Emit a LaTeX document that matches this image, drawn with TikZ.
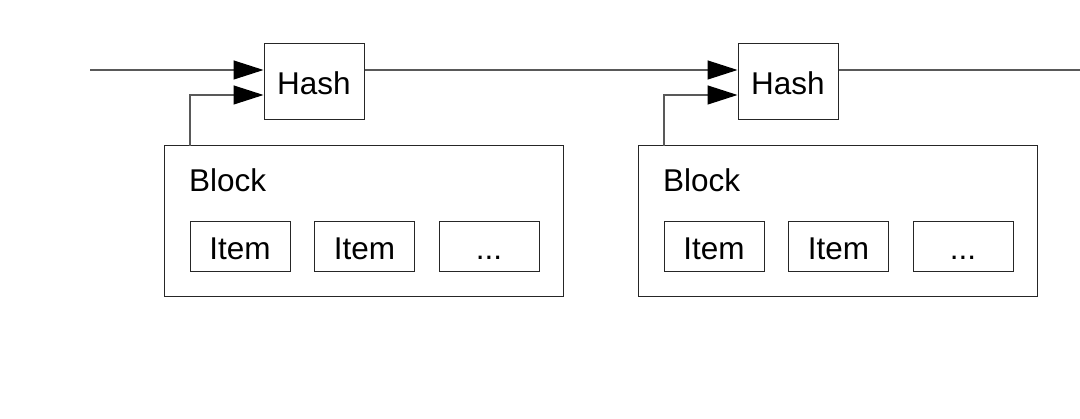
\documentclass[tikz,border=0pt]{standalone}
\usepackage{fontspec}
\setmainfont{Liberation Sans}
\usetikzlibrary{arrows.meta}
\begin{document}
\begin{tikzpicture}[x=1pt,y=-1pt,
  box/.style={draw=black!85,line width=1pt,inner sep=0pt,text height=26pt,text depth=0pt,font=\fontsize{31.5}{36}\selectfont},
  conn/.style={draw=black!65,line width=1.2pt},
  arr/.style={conn,-{Triangle[length=30pt,width=19pt,fill=black,color=black]}}]
\useasboundingbox (0,0) rectangle (1080,419);
\foreach \i/\dx in {1/0,2/474}{
  \node[box,minimum width=100pt,minimum height=76pt] (h\i) at (314+\dx,82) {Hash};
  \node[draw=black!85,line width=1pt,minimum width=399pt,minimum height=151pt] (b\i) at (363.5+\dx,221.5) {};
  \node[font=\fontsize{31.5}{36}\selectfont,anchor=base west,inner sep=0pt] (bl\i) at (189+\dx,192) {Block};
  \node[box,minimum width=100pt,minimum height=50pt] (ia\i) at (240+\dx,247) {Item};
  \node[box,minimum width=100pt,minimum height=50pt] (ib\i) at (364.5+\dx,247) {Item};
  \node[box,minimum width=100pt,minimum height=50pt] (ic\i) at (489+\dx,247) {...};
  \coordinate (bt\i) at (190+\dx,146);
  \draw[arr] (bt\i) |- (h\i.west |- 0,95);
}
\coordinate (start) at (90,70);
\coordinate (end) at (1080,70);
\draw[arr] (start) -- (h1.west |- start);
\draw[arr] (h1.east |- start) -- (h2.west |- start);
\draw[conn] (h2.east |- start) -- (end);
\end{tikzpicture}
\end{document}
